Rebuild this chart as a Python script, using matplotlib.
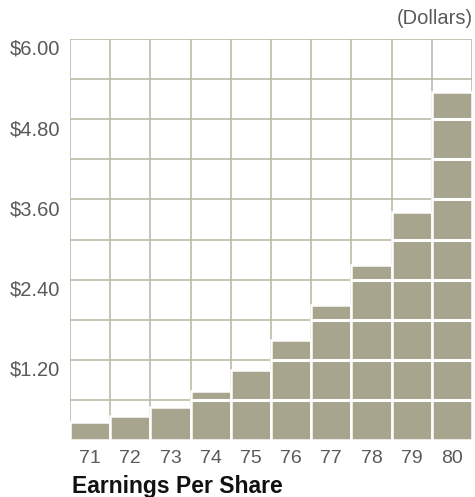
import matplotlib
matplotlib.use("Agg")
import matplotlib.pyplot as plt
import numpy as np

years = ['71', '72', '73', '74', '75', '76', '77', '78', '79', '80']
eps = [0.27, 0.36, 0.49, 0.74, 1.05, 1.50, 2.02, 2.62, 3.41, 5.20]
yticks = [1.20, 2.40, 3.60, 4.80, 6.00]
ytick_labels = ['$1.20', '$2.40', '$3.60', '$4.80', '$6.00']

bar_color = '#a8a58e'
grid_color = '#bebba8'
label_color = '#5a5a5a'

fig = plt.figure(figsize=(4.75, 4.97), dpi=100)
ax = fig.add_axes([70 / 475, 57 / 497, 402 / 475, 401 / 497])

x = np.arange(len(years))
ax.set_xlim(-0.5, len(years) - 0.5)
ax.set_ylim(0, 6.0)

# background grid
step = 0.6
levels = np.arange(step, 6.0 + 0.001, step)
ax.hlines(levels, -0.5, len(years) - 0.5, color=grid_color, lw=1.2, zorder=1)
ax.vlines(np.arange(-0.5, len(years)), 0, 6.0, color=grid_color, lw=1.2, zorder=1)

# bars, split into cells by white lines
ax.bar(x, eps, width=1.0, color=bar_color, edgecolor='white', linewidth=1.8, zorder=2)
for xi, v in zip(x, eps):
    inner = levels[levels < v]
    ax.hlines(inner, xi - 0.5, xi + 0.5, color='white', lw=2.2, zorder=3)

for s in ax.spines.values():
    s.set_visible(False)
ax.set_xticks([])
ax.set_yticks([])

for xi, lab in zip(x, years):
    ax.annotate(lab, (xi, 0), xytext=(0, -13.5), textcoords='offset points',
                ha='center', va='center', fontsize=14, color=label_color,
                family='Liberation Sans')

for v, lab in zip(yticks, ytick_labels):
    ax.annotate(lab, (-0.5, v), xytext=(-7, -7.5), textcoords='offset points',
                ha='right', va='center', fontsize=14.5, color=label_color,
                family='Liberation Sans')

fig.text(473 / 475, 1 - 19 / 497, '(Dollars)', ha='right', va='center',
         fontsize=14.5, color=label_color, family='Liberation Sans')
fig.text(72 / 475, 1 - 486 / 497, 'Earnings Per Share', ha='left', va='center',
         fontsize=16.5, fontweight='bold', color='#111111', family='Liberation Sans')

fig.savefig('out.png', dpi=100)
